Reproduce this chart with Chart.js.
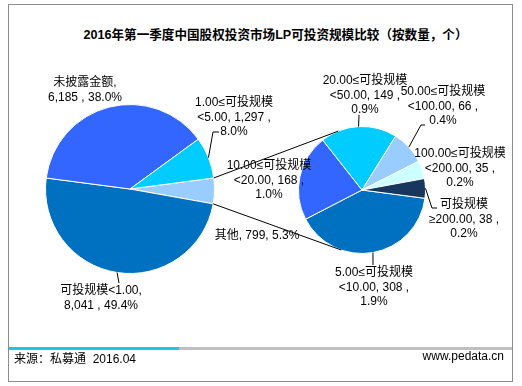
<!DOCTYPE html>
<html>
<head>
  <meta charset="utf-8">
  <title>LP可投资规模比较</title>
  <style>
    body { margin: 0; background: #fff; font-family: "Liberation Sans", Arial, "Noto Sans CJK SC", sans-serif; }
    .wrap { position: relative; width: 522px; height: 386px; overflow: hidden; }
    .frame { position: absolute; left: 8px; top: 4px; width: 503px; height: 376px; border: 1px solid #8c8c8c; }
    .title { position: absolute; left: 0; width: 551px; top: 24px; text-align: center; font-size: 12.6px; font-weight: bold; color: #000; }
    .bar1 { position: absolute; left: 9px; top: 347px; width: 170px; height: 3px; background: #1cc6ee; }
    .bar2 { position: absolute; left: 179px; top: 347px; width: 333px; height: 3px; background: #bfbfbf; }
    .src { position: absolute; left: 14px; top: 349px; font-size: 12px; color: #000; }
    .site { position: absolute; right: 18px; top: 349px; font-size: 12px; color: #000; }
    canvas { position: absolute; left: 0; top: 0; }
  </style>
</head>
<body>
  <div class="wrap">
    <div class="frame"></div>
    <div class="title">2016年第一季度中国股权投资市场LP可投资规模比较（按数量，个）</div>
    <canvas id="mainPie" width="522" height="386"></canvas>
    <canvas id="subPie" width="522" height="386"></canvas>
    <div class="bar1"></div>
    <div class="bar2"></div>
    <div class="src">来源：私募通&nbsp;&nbsp;2016.04</div>
    <div class="site">www.pedata.cn</div>
  </div>

  <script src="https://cdn.jsdelivr.net/npm/chart.js"></script>
  <script>
    // Hauptkreis
    const mainNames = ['其他', '可投规模<1.00', '未披露金额', '1.00≤可投规模<5.00'];
    const mainValues = [799, 8041, 6185, 1297];
    const mainPcts = ['5.3%', '49.4%', '38.0%', '8.0%'];
    const mainColors = ['#99ccff', '#0070c0', '#3366ff', '#00ccff'];

    // Zweiter Kreis (aufgeteilt "其他")
    const subNames = ['5.00≤可投规模<10.00', '10.00≤可投规模<20.00', '20.00≤可投规模<50.00',
                      '50.00≤可投规模<100.00', '100.00≤可投规模<200.00', '可投规模≥200.00'];
    const subValues = [308, 168, 149, 66, 35, 38];
    const subPcts = ['1.9%', '1.0%', '0.9%', '0.4%', '0.2%', '0.2%'];
    const subColors = ['#0070c0', '#3366ff', '#00ccff', '#99ccff', '#ccffff', '#17375e'];

    const fmtNum = v => v.toLocaleString('en-US');

    // Beschriftungs-Formate
    const fmt = {
      one: (n, v, p) => [n + ', ' + fmtNum(v) + ', ' + p],
      two: (n, v, p) => [n + ',', fmtNum(v) + ' , ' + p],
      three: (n, v, p) => {
        const i = Math.max(n.lastIndexOf('<'), n.lastIndexOf('≥'));
        return [n.slice(0, i), n.slice(i) + ', ' + fmtNum(v) + ' ,', p];
      }
    };

    // Position der Beschriftungen (Mitte x, erste Zeile y) und Fuehrungslinien
    const mainLayout = [
      { at: [257, 236], type: 'one' },
      { at: [101, 291], type: 'two', leader: [[119, 283]] },
      { at: [85, 83], type: 'two' },
      { at: [234, 103], type: 'three', leader: [[213, 132], [219, 132]] }
    ];
    const subLayout = [
      { at: [374, 273], type: 'three', leader: [[373, 265]] },
      { at: [269, 166], type: 'three' },
      { at: [365, 81], type: 'three', leader: [[359, 115]] },
      { at: [443, 92], type: 'three', leader: [[421, 125], [425, 125]] },
      { at: [460, 154], type: 'three' },
      { at: [464, 205], type: 'three', leader: [[432, 208], [437, 208]] }
    ];

    function labelPlugin(names, values, pcts, layout) {
      return {
        id: 'sliceLabels',
        afterDraw(chart) {
          const c = chart.ctx;
          const arcs = chart.getDatasetMeta(0).data;
          c.save();
          c.strokeStyle = '#000';
          c.lineWidth = 1;
          layout.forEach((l, i) => {
            if (!l.leader) return;
            const a = arcs[i];
            const mid = (a.startAngle + a.endAngle) / 2;
            c.beginPath();
            c.moveTo(a.x + Math.cos(mid) * a.outerRadius, a.y + Math.sin(mid) * a.outerRadius);
            l.leader.forEach(p => c.lineTo(p[0], p[1]));
            c.stroke();
          });
          c.fillStyle = '#000';
          c.font = '12px "Liberation Sans", Arial, "Noto Sans CJK SC", sans-serif';
          c.textAlign = 'center';
          c.textBaseline = 'middle';
          layout.forEach((l, i) => {
            const lines = fmt[l.type](names[i], values[i], pcts[i]);
            lines.forEach((t, k) => c.fillText(t, l.at[0], l.at[1] + k * 14.5));
          });
          c.restore();
        }
      };
    }

    function pieOptions(rotation, padding) {
      return {
        responsive: false,
        animation: false,
        rotation: rotation,
        layout: { padding: padding },
        plugins: { legend: { display: false }, tooltip: { enabled: false } }
      };
    }

    const mainChart = new Chart(document.getElementById('mainPie'), {
      type: 'pie',
      data: {
        labels: mainNames,
        datasets: [{ data: mainValues, backgroundColor: mainColors, borderColor: '#fff', borderWidth: 1 }]
      },
      options: pieOptions(82.5, { left: 45, right: 307, top: 104, bottom: 112 }),
      plugins: [labelPlugin(mainNames, mainValues, mainPcts, mainLayout)]
    });

    // Verbindungslinien vom Segment "其他" zum zweiten Kreis
    const connectorAngles = [-112, 109];
    const connectors = {
      id: 'connectors',
      afterDatasetsDraw(chart) {
        const other = mainChart.getDatasetMeta(0).data[0];
        const ref = chart.getDatasetMeta(0).data[0];
        const c = chart.ctx;
        c.save();
        c.strokeStyle = '#000';
        c.lineWidth = 1;
        [other.startAngle, other.endAngle].forEach((ang, i) => {
          const b = connectorAngles[i] * Math.PI / 180;
          c.beginPath();
          c.moveTo(other.x + Math.cos(ang) * other.outerRadius, other.y + Math.sin(ang) * other.outerRadius);
          c.lineTo(ref.x + Math.cos(b) * ref.outerRadius, ref.y + Math.sin(b) * ref.outerRadius);
          c.stroke();
        });
        c.restore();
      }
    };

    new Chart(document.getElementById('subPie'), {
      type: 'pie',
      data: {
        labels: subNames,
        datasets: [{ data: subValues, backgroundColor: subColors, borderColor: '#fff', borderWidth: 1 }]
      },
      options: pieOptions(97.5, { left: 298, right: 96, top: 126, bottom: 132 }),
      plugins: [connectors, labelPlugin(subNames, subValues, subPcts, subLayout)]
    });
  </script>
</body>
</html>
